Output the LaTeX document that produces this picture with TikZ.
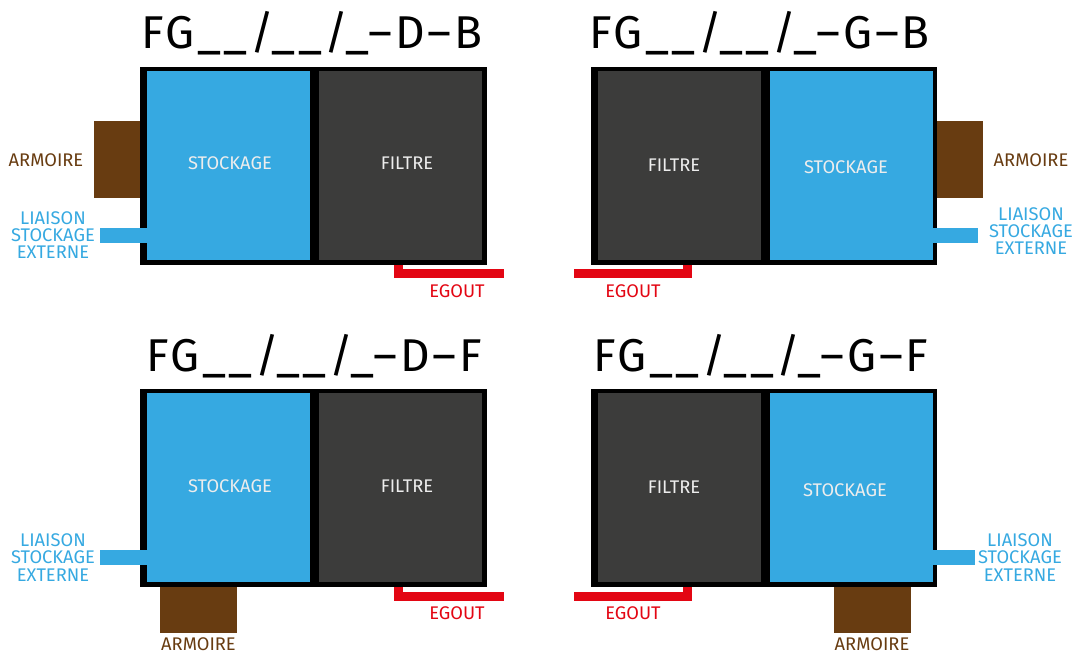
\documentclass[tikz,border=0pt]{standalone}
\usepackage{fontspec}
\setmainfont{Fira Sans}
\newfontfamily\titlefont[LetterSpace=6]{Fira Sans}
\definecolor{cblue}{RGB}{54,169,225}
\definecolor{cdark}{RGB}{60,60,59}
\definecolor{cbrown}{RGB}{104,60,17}
\definecolor{cred}{RGB}{227,6,19}
\definecolor{ctxt}{RGB}{237,237,237}
\tikzset{
  frame/.style={fill=black},
  stock/.style={fill=cblue},
  filt/.style={fill=cdark},
  armo/.style={fill=cbrown},
  liaison/.style={fill=cblue},
  egout/.style={draw=cred, line width=9pt, miter limit=10, line join=miter},
  title/.style={anchor=base, inner sep=0pt, font=\titlefont\fontsize{46}{46}\selectfont},
  intxt/.style={inner sep=0pt, text=ctxt, font=\fontsize{18.3}{18.3}\selectfont},
  armtxt/.style={inner sep=0pt, text=cbrown, font=\fontsize{18.3}{18.3}\selectfont},
  liatxt/.style={inner sep=0pt, text=cblue, align=center, font=\fontsize{18.3}{17.3}\selectfont},
  egtxt/.style={inner sep=0pt, text=cred, font=\fontsize{18.3}{18.3}\selectfont},
}
\begin{document}
\begin{tikzpicture}[x=1pt,y=-1pt]
\useasboundingbox (0,0) rectangle (1074,654);
% ---------- top left ----------
\fill[frame] (140,67) rectangle (487,265);
\fill[stock] (147,71) rectangle (310,260);
\fill[filt] (319,71) rectangle (482,260);
\fill[armo] (94,121) rectangle (140,198);
\fill[liaison] (100,228) rectangle (148,243);
\coordinate (e1a) at (398.5,265);
\coordinate (e1b) at (398.5,273.5);
\coordinate (e1c) at (504,273.5);
\draw[egout] (e1a) -- (e1b) -- (e1c);
\node[title] (t1) at (312,48) {FG\_\_/\_\_/\_–D–B};
\node[intxt] (s1) at (230,163) {STOCKAGE};
\node[intxt] (f1) at (407,163) {FILTRE};
\node[armtxt] (a1) at (46,160) {ARMOIRE};
\node[liatxt] (l1) at (53,235) {LIAISON\\STOCKAGE\\EXTERNE};
\node[egtxt] (g1) at (457,291) {EGOUT};
% ---------- top right ----------
\fill[frame] (591,67) rectangle (937,265);
\fill[filt] (598,71) rectangle (761,260);
\fill[stock] (770,71) rectangle (933,260);
\fill[armo] (937,121) rectangle (983,198);
\fill[liaison] (932,228) rectangle (978,243);
\coordinate (e2a) at (687.5,265);
\coordinate (e2b) at (687.5,273.5);
\coordinate (e2c) at (574,273.5);
\draw[egout] (e2a) -- (e2b) -- (e2c);
\node[title] (t2) at (759.5,48) {FG\_\_/\_\_/\_–G–B};
\node[intxt] (f2) at (674,165) {FILTRE};
\node[intxt] (s2) at (846,167) {STOCKAGE};
\node[armtxt] (a2) at (1031,160) {ARMOIRE};
\node[liatxt] (l2) at (1031,231) {LIAISON\\STOCKAGE\\EXTERNE};
\node[egtxt] (g2) at (633,291) {EGOUT};
% ---------- bottom left ----------
\fill[frame] (140,389) rectangle (487,587);
\fill[stock] (147,393) rectangle (310,582);
\fill[filt] (319,393) rectangle (482,582);
\fill[armo] (160,587) rectangle (237,633);
\fill[liaison] (100,550) rectangle (148,565);
\coordinate (e3a) at (398.5,587);
\coordinate (e3b) at (398.5,596);
\coordinate (e3c) at (504,596);
\draw[egout] (e3a) -- (e3b) -- (e3c);
\node[title] (t3) at (314,371) {FG\_\_/\_\_/\_–D–F};
\node[intxt] (s3) at (230,486) {STOCKAGE};
\node[intxt] (f3) at (407,486) {FILTRE};
\node[armtxt] (a3) at (198.5,644) {ARMOIRE};
\node[liatxt] (l3) at (53,557.5) {LIAISON\\STOCKAGE\\EXTERNE};
\node[egtxt] (g3) at (457,613) {EGOUT};
% ---------- bottom right ----------
\fill[frame] (591,389) rectangle (937,587);
\fill[filt] (598,393) rectangle (761,582);
\fill[stock] (770,393) rectangle (933,582);
\fill[armo] (834,587) rectangle (911,633);
\fill[liaison] (931,550) rectangle (975,565);
\coordinate (e4a) at (687.5,587);
\coordinate (e4b) at (687.5,596);
\coordinate (e4c) at (574,596);
\draw[egout] (e4a) -- (e4b) -- (e4c);
\node[title] (t4) at (761,371) {FG\_\_/\_\_/\_–G–F};
\node[intxt] (f4) at (674,487) {FILTRE};
\node[intxt] (s4) at (845,490) {STOCKAGE};
\node[armtxt] (a4) at (872,644) {ARMOIRE};
\node[liatxt] (l4) at (1020,557.5) {LIAISON\\STOCKAGE\\EXTERNE};
\node[egtxt] (g4) at (633,613) {EGOUT};
\end{tikzpicture}
\end{document}
